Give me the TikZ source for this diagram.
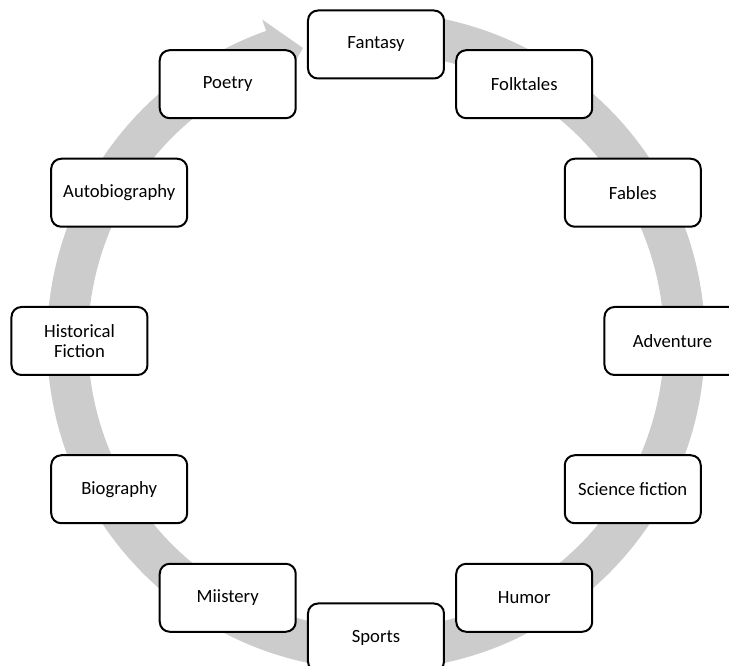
\documentclass[tikz,border=0pt]{standalone}
\usepackage{fontspec}
\setmainfont{Carlito}
\usetikzlibrary{positioning}

\begin{document}
\begin{tikzpicture}[x=0.75pt,y=0.75pt,
			genre/.style={rectangle, rounded corners=7.5pt, draw=black, line width=1.5pt, fill=white,
				minimum width=102pt, minimum height=51pt, align=center,
				font=\fontsize{14}{15}\selectfont, inner sep=2pt},
			ring/.style={fill=black!20, draw=none}
		]
		
		\clip (-376,-325) rectangle (353,341);
		
		% circular arrow behind the boxes
		\fill[ring] (85:329) arc[start angle=85, end angle=-250.5, radius=329]
			-- (109.5:341) -- (104:302) -- (109.5:275) -- (109.5:288)
			arc[start angle=-250.5, end angle=85, radius=288] -- cycle;
		
		\node[genre] (g_fantasy) at (90:296.5) {Fantasy};
		\node[genre] (g_folk) at (60:296.5) {Folktales};
		\node[genre] (g_fables) at (30:296.5) {Fables};
		\node[genre] (g_adv) at (0:296.5) {Adventure};
		\node[genre] (g_scifi) at (-30:296.5) {Science fiction};
		\node[genre] (g_humor) at (-60:296.5) {Humor};
		\node[genre] (g_sports) at (-90:296.5) {Sports};
		\node[genre] (g_myst) at (-120:296.5) {Miistery};
		\node[genre] (g_bio) at (-150:296.5) {Biography};
		\node[genre] (g_hist) at (180:296.5) {Historical\\Fiction};
		\node[genre] (g_auto) at (150:296.5) {Autobiography};
		\node[genre] (g_poetry) at (120:296.5) {Poetry};
	\end{tikzpicture}
\end{document}
